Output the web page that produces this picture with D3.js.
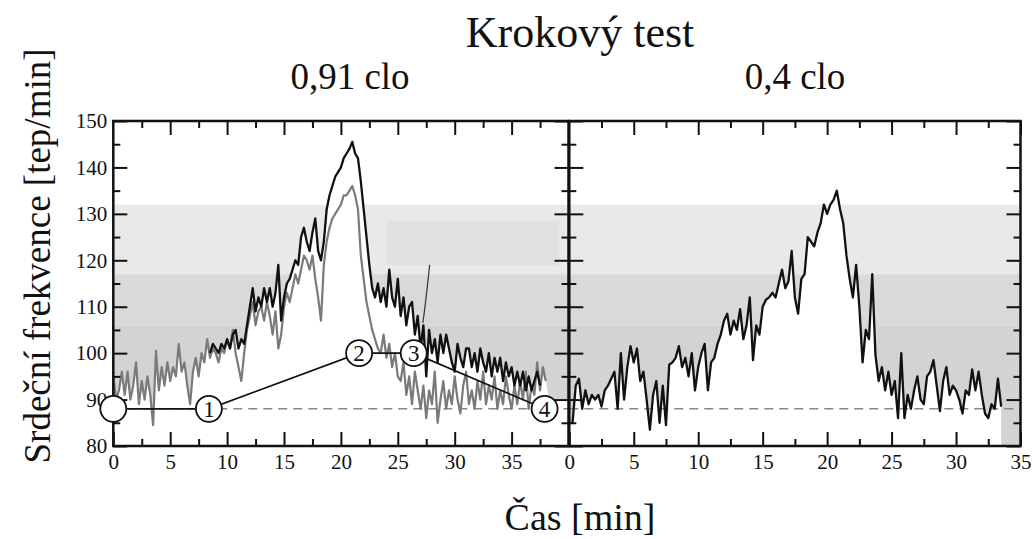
<!DOCTYPE html>
<html>
<head>
<meta charset="utf-8">
<script src="https://cdn.jsdelivr.net/npm/d3@7"></script>
<style>
  html, body { margin: 0; padding: 0; background: #fff; }
  svg { display: block; }
</style>
</head>
<body>
<svg id="chart" width="1035" height="539"></svg>
<script>
// ---- data -------------------------------------------------------------
const title = "Krokový test";
const panelTitles = ["0,91 clo", "0,4 clo"];
const yLabel = "Srdeční frekvence [tep/min]";
const xLabel = "Čas [min]";

const yTicks = [80, 90, 100, 110, 120, 130, 140, 150];
const xTicksLeft = [0, 5, 10, 15, 20, 25, 30, 35];
const xTicksRight = [0, 5, 10, 15, 20, 25, 30, 35];

// heart-rate zones (bpm)
const zoneEdges = [132, 117, 106];
const zoneColors = ["#e9e9e9", "#d9d9d9", "#d3d3d3"];

// sampling of the recorded traces (min)
const sampleStep = 0.25;

// 0,91 clo – first measurement (grey), starts at 0 min
const greyStart = 0;
const greyHR = [
  95, 90, 92, 96, 91, 96, 90, 93, 98, 89, 94, 90, 95, 91, 84.5, 100.5,
  92, 97, 93, 98, 94, 97, 95, 102, 96, 98, 93, 89, 96, 99, 95, 100,
  98, 103, 99, 101, 100, 98, 101, 100, 103, 101, 105, 100, 97, 94, 100, 105,
  108, 111, 106, 109, 110, 107, 111, 108, 104, 109, 101, 104, 110, 113, 111, 114,
  117, 115, 118, 121, 120, 118, 121, 116, 112, 107, 119, 124, 127, 129, 130, 131,
  132, 134, 134, 135, 136, 134, 131, 121, 116, 111, 108, 105, 103, 101, 100, 104,
  99, 102, 97, 100, 95, 94, 98, 91, 95, 89, 96, 92, 88, 93, 86, 92,
  89, 96, 85, 90, 94, 88, 92, 89, 95, 90, 87, 93, 96, 89, 92, 88,
  94, 90, 96, 89, 93, 90, 95, 88, 92, 89, 95, 91, 88, 93, 89, 94,
  90, 96, 88, 93, 91, 98, 92, 97, 94
];

// 0,91 clo – second measurement (black), starts at 8.5 min
const blackStart = 8.5;
const blackHR = [
  100, 102, 101, 100, 102, 101, 103, 101, 104, 105, 101, 103, 102, 106, 110, 114,
  109, 112, 110, 114, 111, 114, 110, 113, 119, 107, 112, 115, 116, 118, 120, 119,
  125, 127, 124, 122, 126, 129, 122, 120, 124, 131, 134, 136, 138, 139, 140, 142,
  143, 144, 145.5, 143, 142, 137, 131, 125, 119, 114, 112, 115, 111, 114, 110, 118,
  112, 110, 116, 108, 112, 106, 110, 111, 104, 108, 101, 106, 95, 105, 100, 103,
  98, 104, 100, 104, 101, 98, 96, 102, 99, 97, 101, 101, 97, 100, 96, 101,
  98, 96, 100, 95, 99, 96, 99, 94, 98, 95, 97, 93, 96, 93, 96, 92,
  95, 92, 94, 96, 93
];

// lower edge of the unshaded region past the end of the traces (min, bpm)
const tailT = [38.3, 40];
const tailHR = [90, 90];

// short detached segment in the 0,91 clo panel
const strayT = [27.2, 27.4, 27.6, 27.8];
const strayHR = [106.5, 110, 114.5, 119];

// 0,4 clo – single measurement, starts at 0 min
const rightStart = 0;
const rightHR = [
  85, 85, 93, 94.5, 88, 92, 89, 91, 90, 91, 88.5, 92, 93, 94.5, 96, 88,
  100, 90, 97, 101.5, 98, 101, 94, 96, 90, 83.5, 91, 94, 85, 93, 84.5, 97.5,
  98, 99, 101.5, 97, 99, 95, 100, 92, 97, 100, 102, 92, 98, 99, 102, 104,
  107, 108.5, 104, 107, 105, 109.5, 103, 106, 112, 98.5, 106, 104, 110, 111.5, 112, 113,
  112, 115, 118, 114, 115.5, 122, 112, 108.5, 116, 117, 125, 124, 123, 126, 128, 132,
  130, 132, 133, 135, 131, 128, 121, 116, 112, 119, 110, 98, 105, 103, 117, 99.5,
  94, 97, 92, 96, 91, 94, 86, 100, 86, 91, 88, 92, 95, 90, 89, 95,
  96, 98.5, 93, 87.5, 94, 97, 91, 93, 92, 90, 87, 92, 91, 96.5, 92, 96,
  91, 87, 86, 89, 88, 94.5, 88.5
];

// lighter block inside the 0,91 clo panel (min / bpm)
const blockT = [24, 39.2];
const blockHR = [118.9, 128.5];

// test protocol stages (0,91 clo panel)
const stageT = [0, 8.4, 21.6, 26.4, 37.9];
const stageHR = [88, 88, 100, 100, 88];
const stageLabels = ["", "1", "2", "3", "4"];

// resting reference level
const restHR = 88;

// ---- drawing ----------------------------------------------------------
const FONT = "Liberation Serif";
const svg = d3.select("#chart");
const serif = sel => sel.style("font-family", FONT).style("fill", "#111");

const y = d3.scaleLinear().domain([80, 150]).range([446, 121]);
const xL = d3.scaleLinear().domain([0, 40]).range([113.3, 568.5]);
const xR = d3.scaleLinear().domain([0, 35]).range([569.3, 1020.5]);

const toPts = (start, vals) => vals.map((v, i) => [start + i * sampleStep, v]);
const greyPts = toPts(greyStart, greyHR);
const blackPts = toPts(blackStart, blackHR);
const rightPts = toPts(rightStart, rightHR);

// upper envelope of both traces in the left panel
const blackMap = new Map(blackPts.map(p => [p[0].toFixed(2), p[1]]));
const envPts = greyPts.map(([t, v]) => {
  const b = blackMap.get(t.toFixed(2));
  return [t, b === undefined ? v : Math.max(v, b)];
}).concat(tailT.map((t, i) => [t, tailHR[i]]));

function drawPanel(id, x, xMax) {
  const g = svg.append("g");
  const defs = svg.append("defs");
  defs.append("clipPath").attr("id", id)
    .append("rect")
    .attr("x", x(0)).attr("y", y(150))
    .attr("width", x(xMax) - x(0)).attr("height", y(80) - y(150));
  const inner = g.append("g").attr("clip-path", `url(#${id})`);
  const bounds = [...zoneEdges, 80];
  zoneEdges.forEach((top, i) => {
    inner.append("rect")
      .attr("x", x(0)).attr("width", x(xMax) - x(0))
      .attr("y", y(top)).attr("height", y(bounds[i + 1]) - y(top))
      .attr("fill", zoneColors[i]);
  });
  return { g, inner };
}

function drawAxes(g, x, xMax, ticks, labelLeftTicks) {
  const x0 = x(0), x1 = x(xMax);
  const minorX = d3.range(2.5, xMax, 5);
  const minorY = d3.range(85, 150, 10);
  const clean = sel => {
    sel.select(".domain").remove();
    sel.selectAll("line").attr("stroke", "#111").attr("stroke-width", 2);
  };
  const styleText = s => s.selectAll("text").style("font-size", "21px").call(serif);

  g.append("g").attr("transform", `translate(0,${y(80)})`)
    .call(d3.axisBottom(x).tickValues(ticks).tickSize(-14).tickPadding(8).tickFormat(d3.format("d")))
    .call(clean).call(styleText);
  g.append("g").attr("transform", `translate(0,${y(80)})`)
    .call(d3.axisBottom(x).tickValues(minorX).tickSize(-7).tickFormat(""))
    .call(clean);
  g.append("g").attr("transform", `translate(0,${y(150)})`)
    .call(d3.axisTop(x).tickValues(ticks.filter(t => t > 0)).tickSize(-14).tickFormat(""))
    .call(clean);
  g.append("g").attr("transform", `translate(0,${y(150)})`)
    .call(d3.axisTop(x).tickValues(minorX).tickSize(-7).tickFormat(""))
    .call(clean);

  const left = d3.axisLeft(y).tickValues(yTicks).tickSize(-14).tickPadding(6);
  if (!labelLeftTicks) left.tickFormat("");
  g.append("g").attr("transform", `translate(${x0},0)`)
    .call(left).call(clean).call(styleText);
  g.append("g").attr("transform", `translate(${x0},0)`)
    .call(d3.axisLeft(y).tickValues(minorY).tickSize(-7).tickFormat("")).call(clean);
  g.append("g").attr("transform", `translate(${x1},0)`)
    .call(d3.axisRight(y).tickValues(yTicks).tickSize(-14).tickFormat("")).call(clean);
  g.append("g").attr("transform", `translate(${x1},0)`)
    .call(d3.axisRight(y).tickValues(minorY).tickSize(-7).tickFormat("")).call(clean);

  g.append("rect")
    .attr("x", x0).attr("y", y(150))
    .attr("width", x1 - x0).attr("height", y(80) - y(150))
    .attr("fill", "none").attr("stroke", "#111").attr("stroke-width", 2.5);
}

const lineFn = x => d3.line().x(d => x(d[0])).y(d => y(d[1]));
const areaFn = x => d3.area().x(d => x(d[0])).y0(y(80)).y1(d => y(d[1]));

// ---- left panel: 0,91 clo ----
const L = drawPanel("clipL", xL, 40);
L.inner.append("rect")
  .attr("x", xL(blockT[0])).attr("width", xL(blockT[1]) - xL(blockT[0]))
  .attr("y", y(blockHR[1])).attr("height", y(blockHR[0]) - y(blockHR[1]))
  .attr("fill", "#e1e1e1");
L.inner.append("path").datum(envPts).attr("d", areaFn(xL)).attr("fill", "#fff");
L.inner.append("line")
  .attr("x1", xL(0)).attr("x2", xL(40)).attr("y1", y(restHR)).attr("y2", y(restHR))
  .attr("stroke", "#888").attr("stroke-width", 1.5).attr("stroke-dasharray", "9,6");
L.inner.append("path").datum(greyPts).attr("d", lineFn(xL))
  .attr("fill", "none").attr("stroke", "#7a7a7a").attr("stroke-width", 2.2).attr("stroke-linejoin", "round");
L.inner.append("path").datum(blackPts).attr("d", lineFn(xL))
  .attr("fill", "none").attr("stroke", "#111").attr("stroke-width", 2.3).attr("stroke-linejoin", "round");
L.inner.append("path").datum(strayT.map((t, i) => [t, strayHR[i]]))
  .attr("d", d3.line().x(d => xL(d[0])).y(d => y(d[1])).curve(d3.curveBasis))
  .attr("fill", "none").attr("stroke", "#333").attr("stroke-width", 1.2);
drawAxes(L.g, xL, 40, xTicksLeft, true);

// protocol stages
const stagePts = stageT.map((t, i) => [t, stageHR[i]]);
svg.append("path").datum(stagePts).attr("d", lineFn(xL))
  .attr("fill", "none").attr("stroke", "#111").attr("stroke-width", 1.6);
const st = svg.append("g").selectAll("g").data(stagePts).join("g")
  .attr("transform", d => `translate(${xL(d[0])},${y(d[1])})`);
st.append("circle").attr("r", 13).attr("fill", "#fff").attr("stroke", "#111").attr("stroke-width", 1.8);
st.append("text").text((d, i) => stageLabels[i])
  .attr("text-anchor", "middle").attr("dy", "0.35em").style("font-size", "23px").call(serif);

// ---- right panel: 0,4 clo ----
const R = drawPanel("clipR", xR, 35);
R.inner.append("path").datum(rightPts).attr("d", areaFn(xR)).attr("fill", "#fff");
R.inner.append("line")
  .attr("x1", xR(0)).attr("x2", xR(35)).attr("y1", y(restHR)).attr("y2", y(restHR))
  .attr("stroke", "#888").attr("stroke-width", 1.5).attr("stroke-dasharray", "9,6");
R.inner.append("path").datum(rightPts).attr("d", lineFn(xR))
  .attr("fill", "none").attr("stroke", "#111").attr("stroke-width", 2.3).attr("stroke-linejoin", "round");
drawAxes(R.g, xR, 35, xTicksRight, false);

// ---- titles and axis labels ----
svg.append("text").text(title).attr("x", 580).attr("y", 47)
  .attr("text-anchor", "middle").style("font-size", "44px").call(serif);
svg.append("text").text(panelTitles[0]).attr("x", 350).attr("y", 89)
  .attr("text-anchor", "middle").style("font-size", "37px").call(serif);
svg.append("text").text(panelTitles[1]).attr("x", 795).attr("y", 89)
  .attr("text-anchor", "middle").style("font-size", "37px").call(serif);
svg.append("text").text(yLabel)
  .attr("transform", "translate(50,256) rotate(-90)")
  .attr("text-anchor", "middle").style("font-size", "37px").call(serif);
svg.append("text").text(xLabel).attr("x", 580).attr("y", 530)
  .attr("text-anchor", "middle").style("font-size", "38px").call(serif);
</script>
</body>
</html>
